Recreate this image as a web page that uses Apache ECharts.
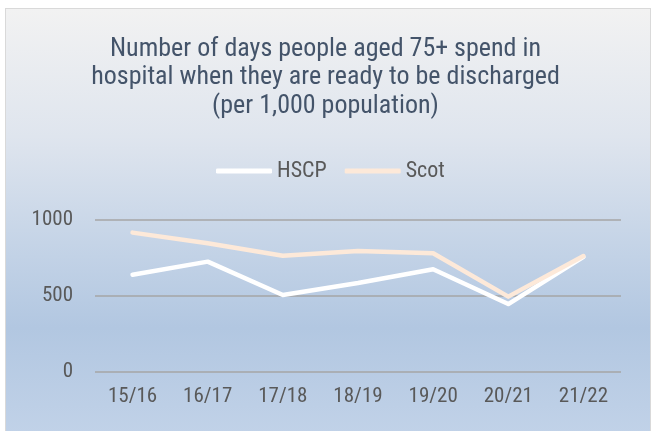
<!DOCTYPE html>
<html><head><meta charset="utf-8">
<script src="https://cdn.jsdelivr.net/npm/echarts@6/dist/echarts.min.js"></script>
<style>
html,body{margin:0;padding:0;background:#fff;}
#wrap{position:absolute;left:5px;top:8px;width:644px;height:425px;border:1.5px solid #d9d9d9;border-bottom:none;
background:linear-gradient(to bottom,#f2f2f2 0%,#dfe5ee 30%,#c5d4e7 55%,#b2c7e1 75%,#c1d2e8 100%);}
#c{position:absolute;left:0;top:0;width:651px;height:431px;}
</style></head><body>
<div id="wrap"></div>
<div id="c"></div>
<script>
var categories = ['15/16','16/17','17/18','18/19','19/20','20/21','21/22'];
var hscp = [640, 726, 507, 585, 676, 447, 757];
var scot = [917, 847, 765, 796, 781, 496, 763];
var titleLines = ['Number of days people aged 75+ spend in','hospital when they are ready to be discharged','(per 1,000 population)'];
var FONT = '"Roboto Condensed","Liberation Sans",Arial,sans-serif';
var chart = echarts.init(document.getElementById('c'), null, {renderer:'canvas'});
chart.setOption({
  backgroundColor: 'transparent',
  animation: false,
  title: {
    text: titleLines.join('\n'), left: 'center', top: 30,
    textStyle: {fontFamily: FONT, fontSize: 26, fontWeight: 'normal', color: '#44546a', lineHeight: 28.5}
  },
  legend: {
    top: 155, left: 211, itemWidth: 56, itemHeight: 5, itemGap: 18,
    icon: 'roundRect',
    textStyle: {fontFamily: FONT, fontSize: 22, color: '#595959', padding:[0,0,0,0]},
    data: ['HSCP','Scot']
  },
  grid: {left: 95, right: 30, top: 220, bottom: 59, containLabel: false},
  xAxis: {
    type: 'category', data: categories, boundaryGap: true,
    axisLine: {show: false}, axisTick: {show: false},
    axisLabel: {fontFamily: FONT, fontSize: 21, color: '#595959', margin: 14}
  },
  yAxis: {
    type: 'value', min: 0, max: 1000, interval: 500,
    axisLine: {show: false}, axisTick: {show: false},
    axisLabel: {fontFamily: FONT, fontSize: 21, color: '#595959', margin: 22,
      formatter: function(v){ return String(v); }},
    splitLine: {lineStyle: {color: '#a6a6a6', width: 1.5}}
  },
  series: [
    {name: 'HSCP', type: 'line', data: hscp, showSymbol: false, symbol: 'none',
     itemStyle: {color: '#ffffff'},
     lineStyle: {color: '#ffffff', width: 4.5, cap: 'round', join: 'round'}},
    {name: 'Scot', type: 'line', data: scot, showSymbol: false, symbol: 'none',
     itemStyle: {color: '#fde9d9'},
     lineStyle: {color: '#fde9d9', width: 4.5, cap: 'round', join: 'round'}}
  ]
});
</script>
</body></html>
